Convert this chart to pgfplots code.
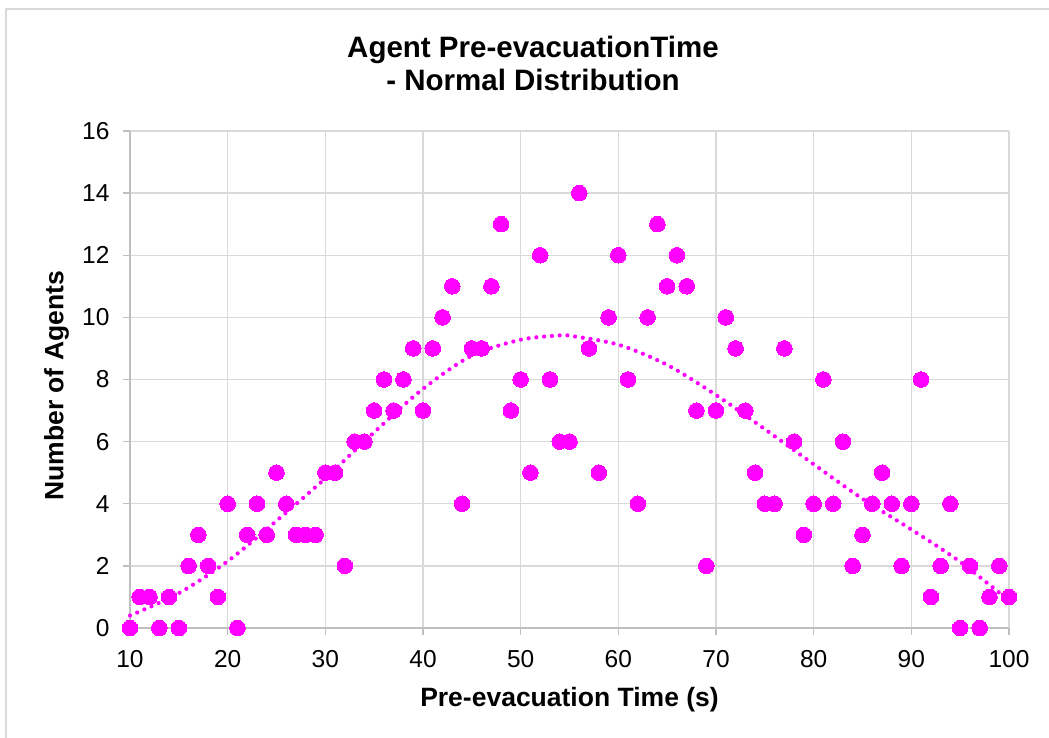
\documentclass[border=0pt]{standalone}
\usepackage{pgfplots}
\pgfplotsset{compat=1.18}
\usepackage{fontspec}
\setmainfont{Liberation Sans}
\definecolor{mag}{HTML}{FF00FF}
\definecolor{gridc}{HTML}{D9D9D9}
\definecolor{axl}{HTML}{BFBFBF}

\pgfplotstableread{
x y
10 0
11 1
12 1
13 0
14 1
15 0
16 2
17 3
18 2
19 1
20 4
21 0
22 3
23 4
24 3
25 5
26 4
27 3
28 3
29 3
30 5
31 5
32 2
33 6
34 6
35 7
36 8
37 7
38 8
39 9
40 7
41 9
42 10
43 11
44 4
45 9
46 9
47 11
48 13
49 7
50 8
51 5
52 12
53 8
54 6
55 6
56 14
57 9
58 5
59 10
60 12
61 8
62 4
63 10
64 13
65 11
66 12
67 11
68 7
69 2
70 7
71 10
72 9
73 7
74 5
75 4
76 4
77 9
78 6
79 3
80 4
81 8
82 4
83 6
84 2
85 3
86 4
87 5
88 4
89 2
90 4
91 8
92 1
93 2
94 4
95 0
96 2
97 0
98 1
99 2
100 1
}\agents

\pgfplotstableread{
x y
10 0.40
15 1.12
20 2.15
25 3.45
30 4.82
35 6.30
40 7.70
45 8.77
50 9.28
54 9.42
55 9.41
60 9.12
65 8.47
70 7.50
75 6.40
80 5.27
85 4.16
90 3.17
95 2.13
100 0.88
}\trend

\begin{document}
\begin{tikzpicture}[x=1bp,y=1bp]
\useasboundingbox (0,0) rectangle (1049,738);
\draw[gridc, line width=2bp] (5.5,0) -- (5.5,728.5) -- (1049,728.5);
\begin{axis}[
  at={(130bp,110bp)}, anchor=south west,
  scale only axis, width=879bp, height=497bp,
  xmin=10, xmax=100, ymin=0, ymax=16,
  xtick={10,20,...,100}, ytick={0,2,...,16},
  axis x line*=bottom, axis y line*=left,
  grid=major, major grid style={gridc, line width=1.3bp},
  axis line style={axl, line width=1.5bp},
  tick style={axl, line width=1.3bp},
  tick align=outside, major tick length=7bp,
  /pgf/number format/assume math mode=true,
  ticklabel style={font=\fontsize{24.5bp}{28bp}\selectfont, black},
  xticklabel style={yshift=-12bp},
  yticklabel style={xshift=-10bp},
  label style={font=\bfseries\fontsize{26.5bp}{30bp}\selectfont},
  xlabel={Pre-evacuation Time (s)},
  ylabel={Number of Agents},
  xlabel style={at={(axis description cs:0.5,-0.157)}, anchor=base},
  ylabel style={at={(axis description cs:-0.0759,0.487)}, anchor=base, rotate=0},
  title={Agent Pre-evacuationTime\\- Normal Distribution},
  title style={font=\bfseries\fontsize{29.5bp}{33bp}\selectfont, align=center,
    at={(axis description cs:0.4585,1.1248)}, anchor=center},
  clip=false,
]
\addplot[mag, only marks, mark=*, mark size=7.8bp, mark options={draw=mag, fill=mag, line width=0pt}] table[x=x,y=y] {\agents};
\addplot[mag, smooth, line width=4.2bp, line cap=round, dash pattern=on 0bp off 7.8bp] table[x=x,y=y] {\trend};
\end{axis}
\end{tikzpicture}
\end{document}
